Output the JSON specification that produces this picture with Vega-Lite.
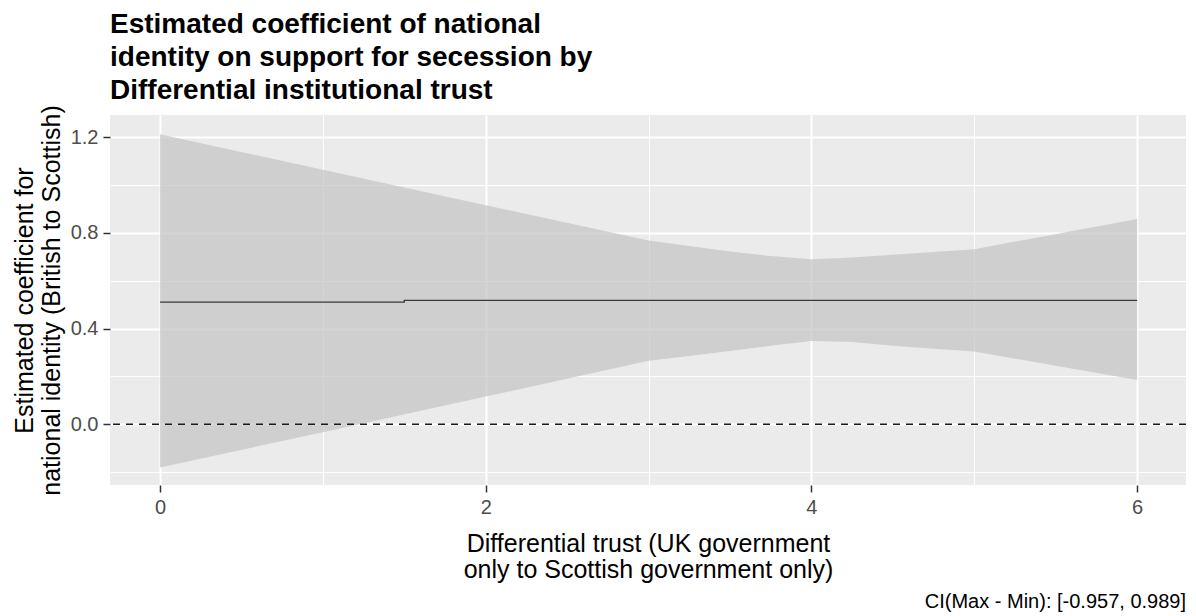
{
  "$schema": "https://vega.github.io/schema/vega-lite/v6.json",
  "width": 1076,
  "height": 370,
  "autosize": {"type": "none"},
  "padding": {"left": 110, "top": 115, "right": 10, "bottom": 131},
  "background": "white",
  "config": {
    "font": "Liberation Sans",
    "view": {"fill": "#EBEBEB", "stroke": null},
    "axis": {
      "domain": false,
      "gridColor": "white",
      "tickColor": "#333333",
      "tickSize": 7,
      "tickWidth": 1.5,
      "labelColor": "#4D4D4D",
      "labelFontSize": 20,
      "labelFont": "Liberation Sans",
      "titleFont": "Liberation Sans",
      "titleFontSize": 25,
      "titleColor": "black",
      "titleFontWeight": "normal"
    }
  },
  "title": {
    "text": ["Estimated coefficient of national", "identity on support for secession by", "Differential institutional trust"],
    "anchor": "start",
    "frame": "group",
    "fontSize": 28,
    "fontWeight": "bold",
    "lineHeight": 33,
    "color": "black",
    "font": "Liberation Sans",
    "offset": 0
  },
  "datasets": {
    "ribbon": [
      {"x": 0, "lower": -0.181, "upper": 1.212},
      {"x": 1, "lower": -0.033, "upper": 1.064},
      {"x": 2, "lower": 0.116, "upper": 0.916},
      {"x": 3, "lower": 0.265, "upper": 0.768},
      {"x": 3.25, "lower": 0.285, "upper": 0.745},
      {"x": 3.5, "lower": 0.306, "upper": 0.722},
      {"x": 3.75, "lower": 0.328, "upper": 0.703},
      {"x": 4, "lower": 0.348, "upper": 0.69},
      {"x": 4.25, "lower": 0.344, "upper": 0.697},
      {"x": 4.5, "lower": 0.328, "upper": 0.709},
      {"x": 4.75, "lower": 0.316, "upper": 0.72},
      {"x": 5, "lower": 0.304, "upper": 0.732},
      {"x": 6, "lower": 0.185, "upper": 0.858}
    ],
    "est": [
      {"x": 0, "est": 0.511},
      {"x": 1.5, "est": 0.511},
      {"x": 1.5, "est": 0.518},
      {"x": 6, "est": 0.518}
    ],
    "caption": [
      {"caption": "CI(Max - Min): [-0.957, 0.989]"}
    ]
  },
  "layer": [
    {
      "data": {"name": "ribbon"},
      "mark": {"type": "area", "fill": "#C3C3C3", "opacity": 0.7},
      "encoding": {
        "x": {
          "field": "x", "type": "quantitative",
          "scale": {"domain": [-0.307, 6.3], "nice": false, "zero": false},
          "axis": {"orient": "bottom", "values": [1, 3, 5], "grid": true, "gridWidth": 1, "labels": false, "ticks": false, "title": null}
        },
        "y": {
          "field": "lower", "type": "quantitative",
          "scale": {"domain": [-0.254, 1.293], "nice": false, "zero": false},
          "axis": {"orient": "left", "values": [-0.2, 0.2, 0.6, 1.0], "grid": true, "gridWidth": 1, "labels": false, "ticks": false, "title": null}
        },
        "y2": {"field": "upper"}
      }
    },
    {
      "data": {"name": "est"},
      "mark": {"type": "line", "color": "#3a3a3a", "strokeWidth": 1.3},
      "encoding": {
        "x": {
          "field": "x", "type": "quantitative",
          "scale": {"domain": [-0.307, 6.3], "nice": false, "zero": false},
          "axis": {
            "orient": "bottom", "values": [0, 2, 4, 6], "grid": true, "gridWidth": 2,
            "labelPadding": 5,
            "title": ["Differential trust (UK government", "only to Scottish government only)"],
            "titlePadding": 14, "titleLineHeight": 26
          }
        },
        "y": {
          "field": "est", "type": "quantitative",
          "scale": {"domain": [-0.254, 1.293], "nice": false, "zero": false},
          "axis": {
            "orient": "left", "values": [0, 0.4, 0.8, 1.2], "format": ".1f", "grid": true, "gridWidth": 2,
            "labelPadding": 5,
            "title": ["Estimated coefficient for", "national identity (British to Scottish)"],
            "titlePadding": 6, "titleLineHeight": 27
          }
        }
      }
    },
    {
      "data": {"values": [{}]},
      "mark": {"type": "rule", "strokeDash": [7, 6], "color": "#1a1a1a", "strokeWidth": 1.6},
      "encoding": {
        "y": {"datum": 0, "type": "quantitative", "axis": null}
      }
    },
    {
      "data": {"name": "caption"},
      "mark": {"type": "text", "align": "right", "baseline": "alphabetic", "fontSize": 20, "color": "black", "font": "Liberation Sans"},
      "encoding": {
        "x": {"datum": 6.3, "type": "quantitative", "axis": null},
        "y": {"datum": -0.77, "type": "quantitative", "axis": null},
        "text": {"field": "caption"}
      }
    }
  ],
  "resolve": {"axis": {"x": "independent", "y": "independent"}}
}
